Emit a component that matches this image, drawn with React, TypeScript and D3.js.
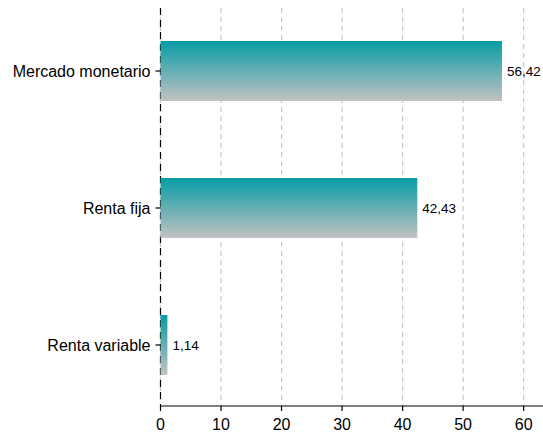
import React from "react";
import * as d3 from "d3";

const categories = ["Mercado monetario", "Renta fija", "Renta variable"];
const values = [56.42, 42.43, 1.14];
const tickValues = [0, 10, 20, 30, 40, 50, 60];

export default function App() {
  const W = 543, H = 432;
  const x = d3.scaleLinear().domain([0, 63.2]).range([160.5, 543]);
  const y = d3.scalePoint<string>().domain(categories).range([71, 345]);
  const barH = 60;
  const top = 8, axisY = 406;
  const fmt = (v: number) => v.toFixed(2).replace(".", ",");
  return (
    <svg width={W} height={H} style={{ position: "absolute", left: 0, top: 0 }} fontFamily="Liberation Sans, Arial, sans-serif">
      <defs>
        <linearGradient id="g" x1="0" y1="0" x2="0" y2="1">
          <stop offset="0" stopColor="#079ca5" />
          <stop offset="1" stopColor="#c2c2c2" />
        </linearGradient>
      </defs>
      {tickValues.map((t) => (
        <line key={t} x1={x(t)} x2={x(t)} y1={top} y2={axisY} stroke="#c8c8c8" strokeWidth={1.2} strokeDasharray="5,4" />
      ))}
      <line x1={x(0)} x2={x(0)} y1={top} y2={axisY} stroke="#000" strokeWidth={1.2} strokeDasharray="7,5" />
      {categories.map((c, i) => (
        <g key={c}>
          <rect x={x(0)} y={(y(c) as number) - barH / 2} width={x(values[i]) - x(0)} height={barH} fill="url(#g)" />
          <text x={x(values[i]) + 5} y={y(c) as number} dy="0.35em" fontSize={13.5} fill="#000">{fmt(values[i])}</text>
          <line x1={x(0) - 5} x2={x(0)} y1={y(c) as number} y2={y(c) as number} stroke="#000" strokeWidth={1.2} />
          <text x={x(0) - 10} y={y(c) as number} dy="0.35em" textAnchor="end" fontSize={16} fill="#000">{c}</text>
        </g>
      ))}
      <line x1={x(0)} x2={W} y1={axisY} y2={axisY} stroke="#000" strokeWidth={1.2} />
      {tickValues.map((t) => (
        <g key={"t" + t}>
          <line x1={x(t)} x2={x(t)} y1={axisY} y2={axisY + 5} stroke="#000" strokeWidth={1.2} />
          <text x={x(t)} y={axisY + 24} textAnchor="middle" fontSize={16} fill="#000">{t}</text>
        </g>
      ))}
    </svg>
  );
}
